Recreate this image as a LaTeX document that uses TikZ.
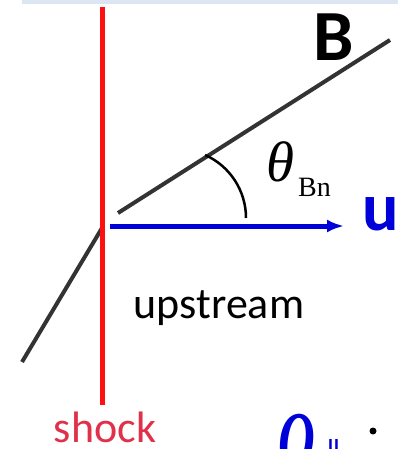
\documentclass[tikz,border=0pt]{standalone}
\usepackage{fontspec}
\setmainfont{Carlito}
\newfontfamily\timesfont{Liberation Serif}
\usetikzlibrary{arrows.meta}
\definecolor{bandblue}{HTML}{DCE6F2}
\definecolor{shockred}{HTML}{FF1010}
\definecolor{labelred}{HTML}{E0304A}
\definecolor{flowblue}{HTML}{0000D8}
\definecolor{fieldgray}{HTML}{333333}
\tikzset{
  shock line/.style={line width=5pt,shockred},
  field line/.style={line width=4pt,fieldgray},
  flow arrow/.style={line width=5pt,flowblue,-{Latex[length=17pt,width=13pt]}},
  angle arc/.style={line width=2.5pt,black},
  big label/.style={inner sep=0pt,font=\fontsize{72}{72}\selectfont\bfseries},
  text label/.style={inner sep=0pt,font=\fontsize{44}{44}\selectfont},
}
\begin{document}
\begin{tikzpicture}[x=1pt,y=-1pt]
\useasboundingbox (0,0) rectangle (398,449);
\fill[bandblue] (22,0) rectangle (398,4);
% points along the shock and the field
\coordinate (shockTop) at (102,7);
\coordinate (shockBot) at (102,405);
\coordinate (kink) at (102,228);
\coordinate (fieldLow) at (22,362);
\coordinate (fieldStart) at (118,213);
\coordinate (fieldEnd) at (390,40);
\coordinate (flowStart) at (110,226);
\coordinate (flowEnd) at (344,226);
\coordinate (arcStart) at (246,218);
\draw[field line] (fieldLow) -- (kink);
\draw[field line] (fieldStart) -- (fieldEnd);
\draw[shock line] (shockTop) -- (shockBot);
\draw[flow arrow] (flowStart) -- (flowEnd);
\draw[angle arc] (arcStart) arc[start angle=0,end angle=66,radius=69pt];
% labels
\node[big label,anchor=base] (labelB) at (334,61) {B};
\node[big label,anchor=base,text=flowblue,font=\fontsize{68}{68}\selectfont\bfseries] (labelU) at (381,230) {u};
\node[inner sep=0pt,anchor=base west] (theta) at (266,182) {\fontsize{57}{57}\selectfont\timesfont\itshape θ};
\node[inner sep=0pt,anchor=base west] (thetaSub) at (298,196) {\fontsize{28}{28}\selectfont\timesfont Bn};
\node[text label,anchor=base] (upstream) at (219,318) {upstream};
\node[text label,anchor=base,text=labelred] (shock) at (105,442) {shock};
\node[inner sep=0pt,anchor=base west,text=flowblue] (heatQ) at (278,468) {\scalebox{0.62}[1]{\fontsize{82}{82}\selectfont\timesfont\bfseries\itshape Q}};
\node[inner sep=0pt,anchor=north west,text=flowblue] (heatSub) at (328,439) {\fontsize{20}{20}\selectfont\bfseries l\kern1pt l};
\fill (373,431) circle (3.5pt);
\end{tikzpicture}
\end{document}
